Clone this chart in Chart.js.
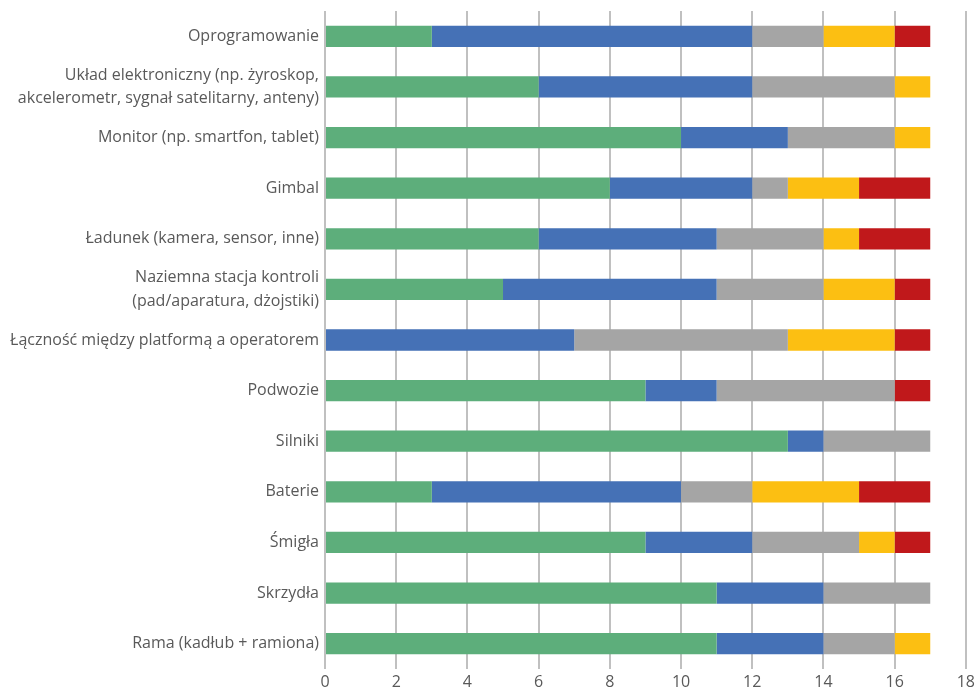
<!DOCTYPE html>
<html>
<head>
<meta charset="utf-8">
<script src="https://cdn.jsdelivr.net/npm/chart.js@4/dist/chart.umd.min.js"></script>
<style>
  html, body { margin: 0; padding: 0; background: #fff; }
  #wrap { width: 979px; height: 691px; }
</style>
</head>
<body>
<div id="wrap"><canvas id="c"></canvas></div>
<script>
// Drone components, top to bottom
const categories = [
  "Oprogramowanie",
  ["Układ elektroniczny (np. żyroskop,", "akcelerometr, sygnał satelitarny, anteny)"],
  "Monitor (np. smartfon, tablet)",
  "Gimbal",
  "Ładunek (kamera, sensor, inne)",
  ["Naziemna stacja kontroli", "(pad/aparatura, dżojstiki)"],
  "Łączność między platformą a operatorem",
  "Podwozie",
  "Silniki",
  "Baterie",
  "Śmigła",
  "Skrzydła",
  "Rama (kadłub + ramiona)"
];

// Stacked segments per component
const seriesGreen  = [3, 6, 10, 8, 6, 5, 0, 9, 13, 3, 9, 11, 11];
const seriesBlue   = [9, 6, 3, 4, 5, 6, 7, 2, 1, 7, 3, 3, 3];
const seriesGray   = [2, 4, 3, 1, 3, 3, 6, 5, 3, 2, 3, 3, 2];
const seriesYellow = [2, 1, 1, 2, 1, 2, 3, 0, 0, 3, 1, 0, 1];
const seriesRed    = [1, 0, 0, 2, 2, 1, 1, 1, 0, 2, 1, 0, 0];

const xTicks = [0, 2, 4, 6, 8, 10, 12, 14, 16, 18];

const FONT = "'Open Sans', 'Liberation Sans', sans-serif";

const mk = (label, data, color) => ({
  label, data, backgroundColor: color, borderWidth: 0,
  barPercentage: 0.42, categoryPercentage: 1
});

new Chart(document.getElementById('c'), {
  type: 'bar',
  data: {
    labels: categories,
    datasets: [
      mk('Zielony', seriesGreen, '#5DAE7B'),
      mk('Niebieski', seriesBlue, '#4571B6'),
      mk('Szary', seriesGray, '#A5A5A5'),
      mk('Żółty', seriesYellow, '#FCBF12'),
      mk('Czerwony', seriesRed, '#C0181B')
    ]
  },
  options: {
    indexAxis: 'y',
    responsive: true,
    maintainAspectRatio: false,
    animation: false,
    layout: { padding: { top: 11, right: 13, bottom: 0, left: 0 } },
    plugins: { legend: { display: false }, tooltip: { enabled: false } },
    scales: {
      x: {
        stacked: true,
        min: 0, max: 18,
        afterBuildTicks: (s) => { s.ticks = xTicks.map(v => ({ value: v })); },
        grid: { color: '#C0C0C0', lineWidth: 2, drawTicks: false },
        border: { display: false },
        ticks: { color: '#595959', font: { family: FONT, size: 16 }, padding: 4 },
        afterFit: (s) => { s.height = 22; }
      },
      y: {
        stacked: true,
        grid: { display: false, drawTicks: false },
        border: { display: false },
        ticks: { color: '#595959', font: { family: FONT, size: 16, lineHeight: 1.45 }, padding: 6, autoSkip: false },
        afterFit: (s) => { s.width = 325; s.paddingTop = 0; s.paddingBottom = 0; }
      }
    }
  }
});
</script>
</body>
</html>
